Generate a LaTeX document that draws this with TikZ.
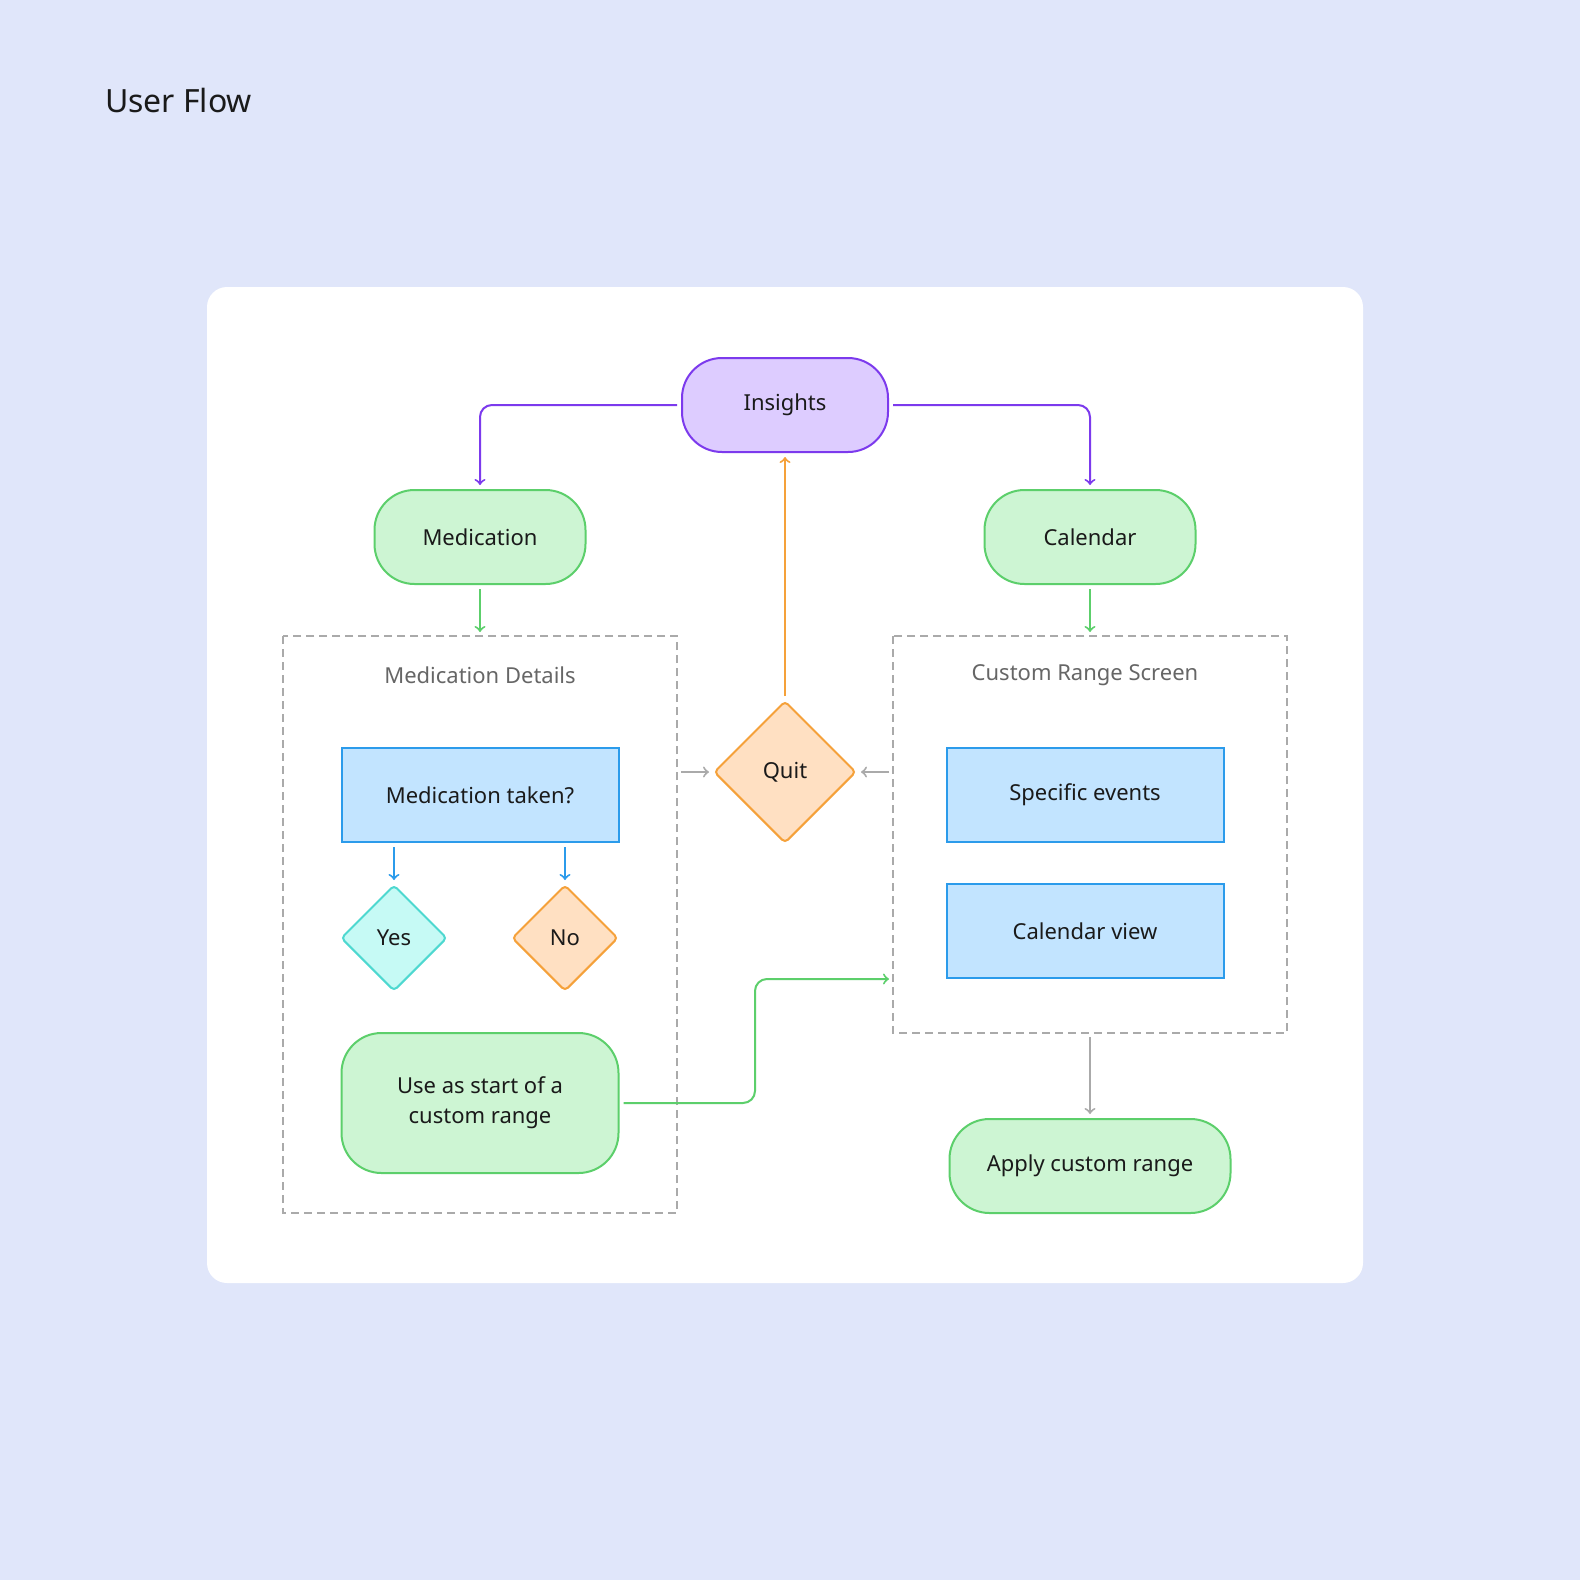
\documentclass[tikz,border=0pt]{standalone}
\usepackage{fontspec}
\setmainfont{Noto Sans}
\usetikzlibrary{shapes.geometric}
\definecolor{bgblue}{RGB}{224,230,250}
\definecolor{greenline}{RGB}{92,207,107}
\definecolor{greenfill}{RGB}{205,245,211}
\definecolor{purpleline}{RGB}{124,58,237}
\definecolor{purplefill}{RGB}{221,204,255}
\definecolor{orangeline}{RGB}{245,161,58}
\definecolor{orangefill}{RGB}{255,224,194}
\definecolor{cyanline}{RGB}{78,216,208}
\definecolor{cyanfill}{RGB}{198,250,245}
\definecolor{blueline}{RGB}{43,155,235}
\definecolor{bluefill}{RGB}{194,228,255}
\definecolor{grayline}{RGB}{170,170,170}
\definecolor{inktext}{RGB}{26,26,26}
\tikzset{
  pill/.style={draw, line width=1pt, rounded corners=20pt, inner sep=0pt, font=\fontsize{11}{15}\selectfont, text=inktext, align=center},
  box/.style={draw=blueline, fill=bluefill, line width=1pt, inner sep=0pt, minimum width=138.5pt, minimum height=47pt, font=\fontsize{11}{13}\selectfont, text=inktext},
  choice/.style={diamond, draw, line width=1pt, rounded corners=2pt, inner sep=0pt, font=\fontsize{11}{13}\selectfont, text=inktext},
  frame/.style={draw=grayline, dashed, line width=1pt, dash pattern=on 4pt off 2.5pt},
  flow/.style={->, line width=1pt, rounded corners=6pt},
}
\begin{document}
\begin{tikzpicture}[x=0.5pt,y=-0.5pt]
        % background
        \fill[bgblue] (0,0) rectangle (1580,1580);
        \fill[white, rounded corners=10pt] (207,287) rectangle (1363,1283);
        \node[anchor=west, font=\fontsize{16}{18}\selectfont, text=inktext] (title) at (98,100) {User Flow};

        % groups
        \draw[frame] (283,636) rectangle (677,1213);
        \draw[frame] (893,636) rectangle (1287,1033);
        \coordinate (leftTop) at (480,636);
        \coordinate (leftEast) at (677,772);
        \coordinate (rightTop) at (1090,636);
        \coordinate (rightWest) at (893,772);
        \coordinate (rightBottom) at (1090,1033);
        \coordinate (rightEntry) at (893,979);
        \node[text=black!60, font=\fontsize{11}{13}\selectfont] (medDetails) at (480,675) {Medication Details};
        \node[text=black!60, font=\fontsize{11}{13}\selectfont] (rangeScreen) at (1085,675) {Custom Range Screen};

        % nodes
        \node[pill, draw=purpleline, fill=purplefill, minimum width=103pt, minimum height=47pt] (insights) at (785,405) {Insights};
        \node[pill, draw=greenline, fill=greenfill, minimum width=105.5pt, minimum height=47pt] (medication) at (480,537) {Medication};
        \node[pill, draw=greenline, fill=greenfill, minimum width=105.5pt, minimum height=47pt] (calendar) at (1090,537) {Calendar};
        \node[box] (taken) at (480,795) {Medication taken?};
        \node[choice, draw=cyanline, fill=cyanfill, minimum width=53pt, minimum height=53pt] (yes) at (394,938) {Yes};
        \node[choice, draw=orangeline, fill=orangefill, minimum width=53pt, minimum height=53pt] (no) at (565,938) {No};
        \node[pill, draw=greenline, fill=greenfill, minimum width=138.5pt, minimum height=70pt] (startRange) at (480,1103) {Use as start of a\\custom range};
        \node[choice, draw=orangeline, fill=orangefill, minimum width=71pt, minimum height=71pt] (quit) at (785,772) {Quit};
        \node[box] (events) at (1085,795) {Specific events};
        \node[box] (calView) at (1085,931) {Calendar view};
        \node[pill, draw=greenline, fill=greenfill, minimum width=140.5pt, minimum height=47pt] (apply) at (1090,1166) {Apply custom range};

        % connectors
        \draw[flow, purpleline, shorten <=2pt, shorten >=2pt] (insights.west) -| (medication.north);
        \draw[flow, purpleline, shorten <=2pt, shorten >=2pt] (insights.east) -| (calendar.north);
        \draw[flow, greenline, shorten <=2pt, shorten >=2pt] (medication) -- (leftTop);
        \draw[flow, greenline, shorten <=2pt, shorten >=2pt] (calendar) -- (rightTop);
        \draw[flow, orangeline, shorten <=2pt, shorten >=2pt] (quit.north) -- (insights.south);
        \draw[flow, grayline, shorten <=2pt, shorten >=2pt] (leftEast) -- (quit.west);
        \draw[flow, grayline, shorten <=2pt, shorten >=2pt] (rightWest) -- (quit.east);
        \draw[flow, blueline, shorten <=2pt, shorten >=2pt] (taken.south -| yes) -- (yes.north);
        \draw[flow, blueline, shorten <=2pt, shorten >=2pt] (taken.south -| no) -- (no.north);
        \draw[flow, greenline, shorten <=2pt, shorten >=2pt] (startRange.east) -- (755,1103) -- (755,979) -- (rightEntry);
        \draw[flow, grayline, shorten <=2pt, shorten >=2pt] (rightBottom) -- (apply.north);
\end{tikzpicture}
\end{document}
